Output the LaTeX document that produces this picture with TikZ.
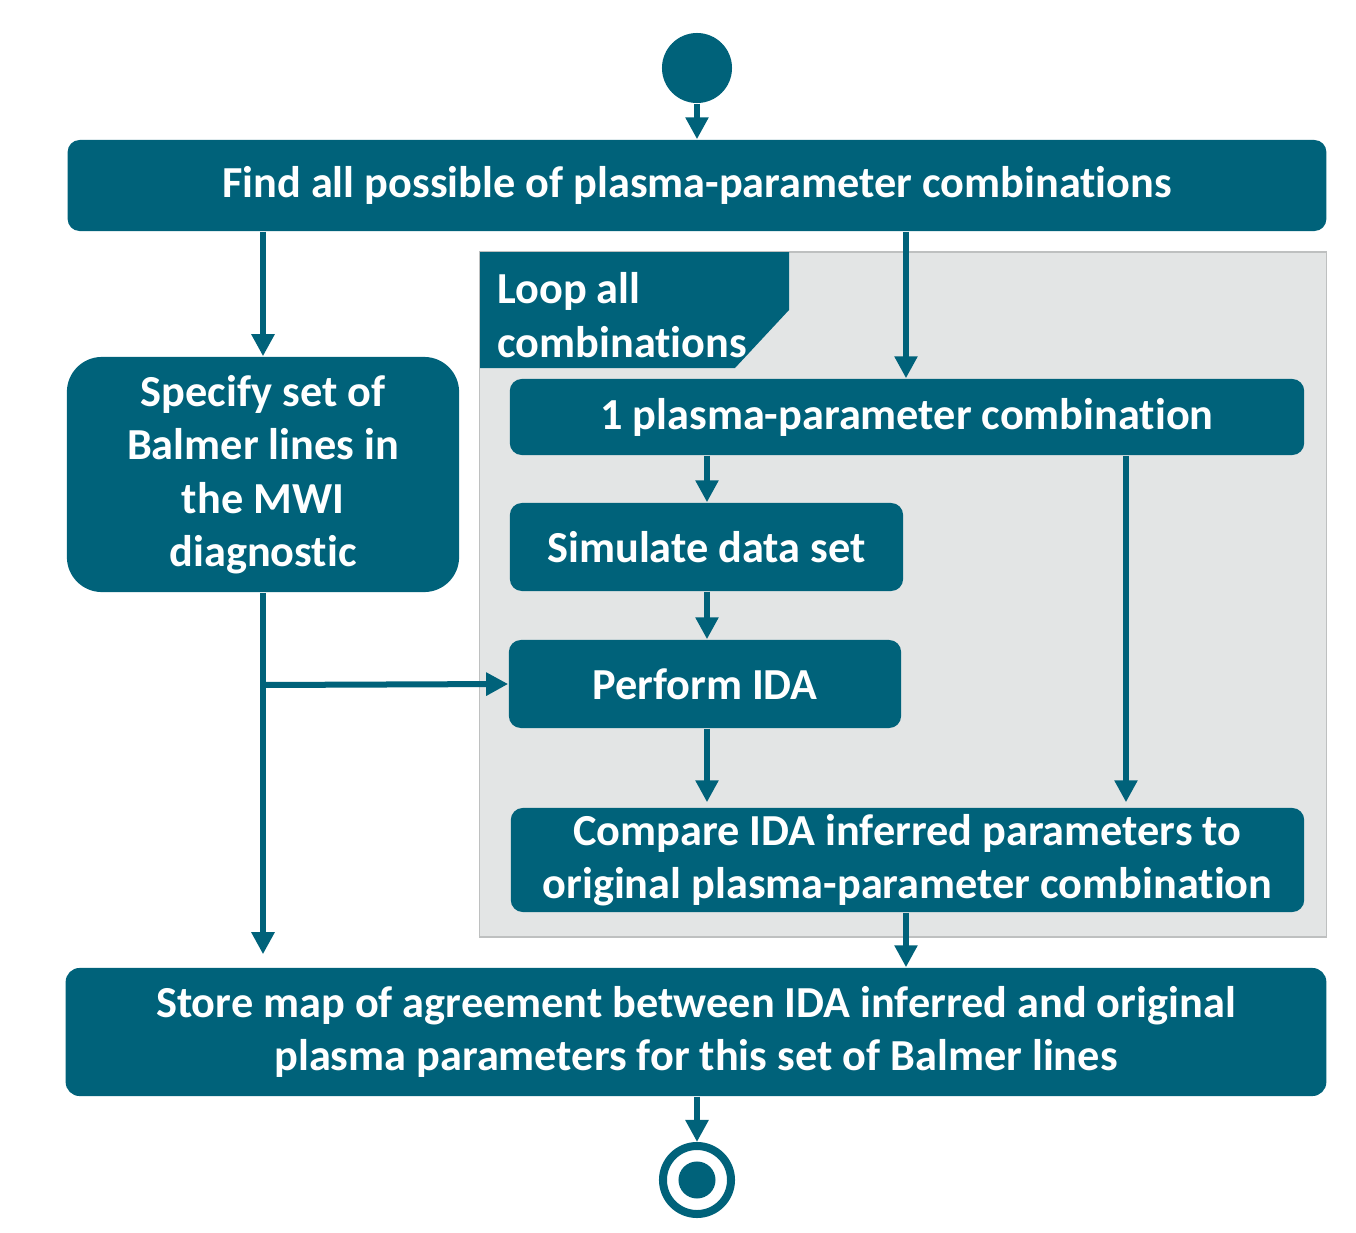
\documentclass[tikz,border=0pt]{standalone}
\usepackage{fontspec}
\setmainfont{Carlito}[Ligatures=NoCommon]
\usetikzlibrary{arrows.meta,positioning,calc}
\definecolor{idaTeal} {RGB}{  0, 98,122}
\definecolor{idaGrey} {RGB}{227,229,229}
\definecolor{idaEdge} {RGB}{190,192,192}

\begin{document}
\begin{tikzpicture}[x=0.01cm,y=-0.01cm,
  every node/.style={font=\fontsize{12.6}{15.2}\selectfont\bfseries,text=white},
  >={Triangle[length=0.22cm,width=0.22cm]},
  flow/.style={->,line width=0.06cm,idaTeal},
  action/.style={fill=idaTeal,inner sep=0pt,align=center},
  loopbox/.style={fill=idaGrey,draw=idaEdge,line width=0.4pt,inner sep=0pt}
]
\useasboundingbox (0,0) rectangle (1356,1233);

% loop region
\node[loopbox,minimum width=8.46cm,minimum height=6.85cm] (loop) at (903,594.5) {};
\fill[idaTeal] (480,252) -- (789,252) -- (789,310) -- (735,368) -- (480,368) -- cycle;
\node[anchor=west,align=left] (looplbl) at (485,315) {Loop all\\combinations};

% start / end
\node[circle,fill=idaTeal,minimum size=0.70cm,inner sep=0pt] (start) at (697,68) {};
\node[circle,draw=idaTeal,line width=0.08cm,minimum size=0.68cm,inner sep=0pt] (stop) at (697,1180) {};
\fill[idaTeal] (stop.center) circle[radius=0.185cm];

% actions
\node[action,rounded corners=0.12cm,minimum width=12.58cm,minimum height=0.91cm] (find) at (697,185.5)
  {Find all possible of plasma-parameter combinations};
\node[action,rounded corners=0.35cm,minimum width=3.92cm,minimum height=2.35cm] (spec) at (263,474.5)
  {Specify set of\\Balmer lines in\\the MWI\\diagnostic};
\node[action,rounded corners=0.12cm,minimum width=7.94cm,minimum height=0.76cm] (comb) at (907,417)
  {1 plasma-parameter combination};
\node[action,rounded corners=0.12cm,minimum width=3.93cm,minimum height=0.88cm] (sim) at (706.5,547)
  {Simulate data set};
\node[action,rounded corners=0.12cm,minimum width=3.92cm,minimum height=0.88cm] (ida) at (705,684)
  {Perform IDA};
\node[action,rounded corners=0.12cm,minimum width=7.93cm,minimum height=1.04cm] (cmp) at (907.5,860)
  {Compare IDA inferred parameters to\\original plasma-parameter combination};
\node[action,rounded corners=0.14cm,minimum width=12.60cm,minimum height=1.28cm] (store) at (696,1032)
  {Store map of agreement between IDA inferred and original\\plasma parameters for this set of Balmer lines};

% connectors
\coordinate (fork) at (263,685);
\draw[flow] (start) -- (find.north -| start);
\draw[flow] (find.south -| spec) -- (spec.north);
\draw[flow] (find.south -| 906,0) -- (comb.north -| 906,0);
\draw[flow] (comb.south -| 707,0) -- (sim.north -| 707,0);
\draw[flow] (sim.south -| 707,0) -- (ida.north -| 707,0);
\draw[flow,shorten >=0.05cm] (ida.south -| 707,0) -- (cmp.north -| 707,0);
\draw[flow,shorten >=0.05cm] (comb.south -| 1126,0) -- (cmp.north -| 1126,0);
\draw[flow,shorten >=0.13cm] (spec.south) -- (store.north -| spec);
\draw[flow] (fork) -- (ida.west);
\draw[flow] (cmp.south -| 906,0) -- (store.north -| 906,0);
\draw[flow] (store.south -| stop) -- (stop.north);
\end{tikzpicture}
\end{document}
